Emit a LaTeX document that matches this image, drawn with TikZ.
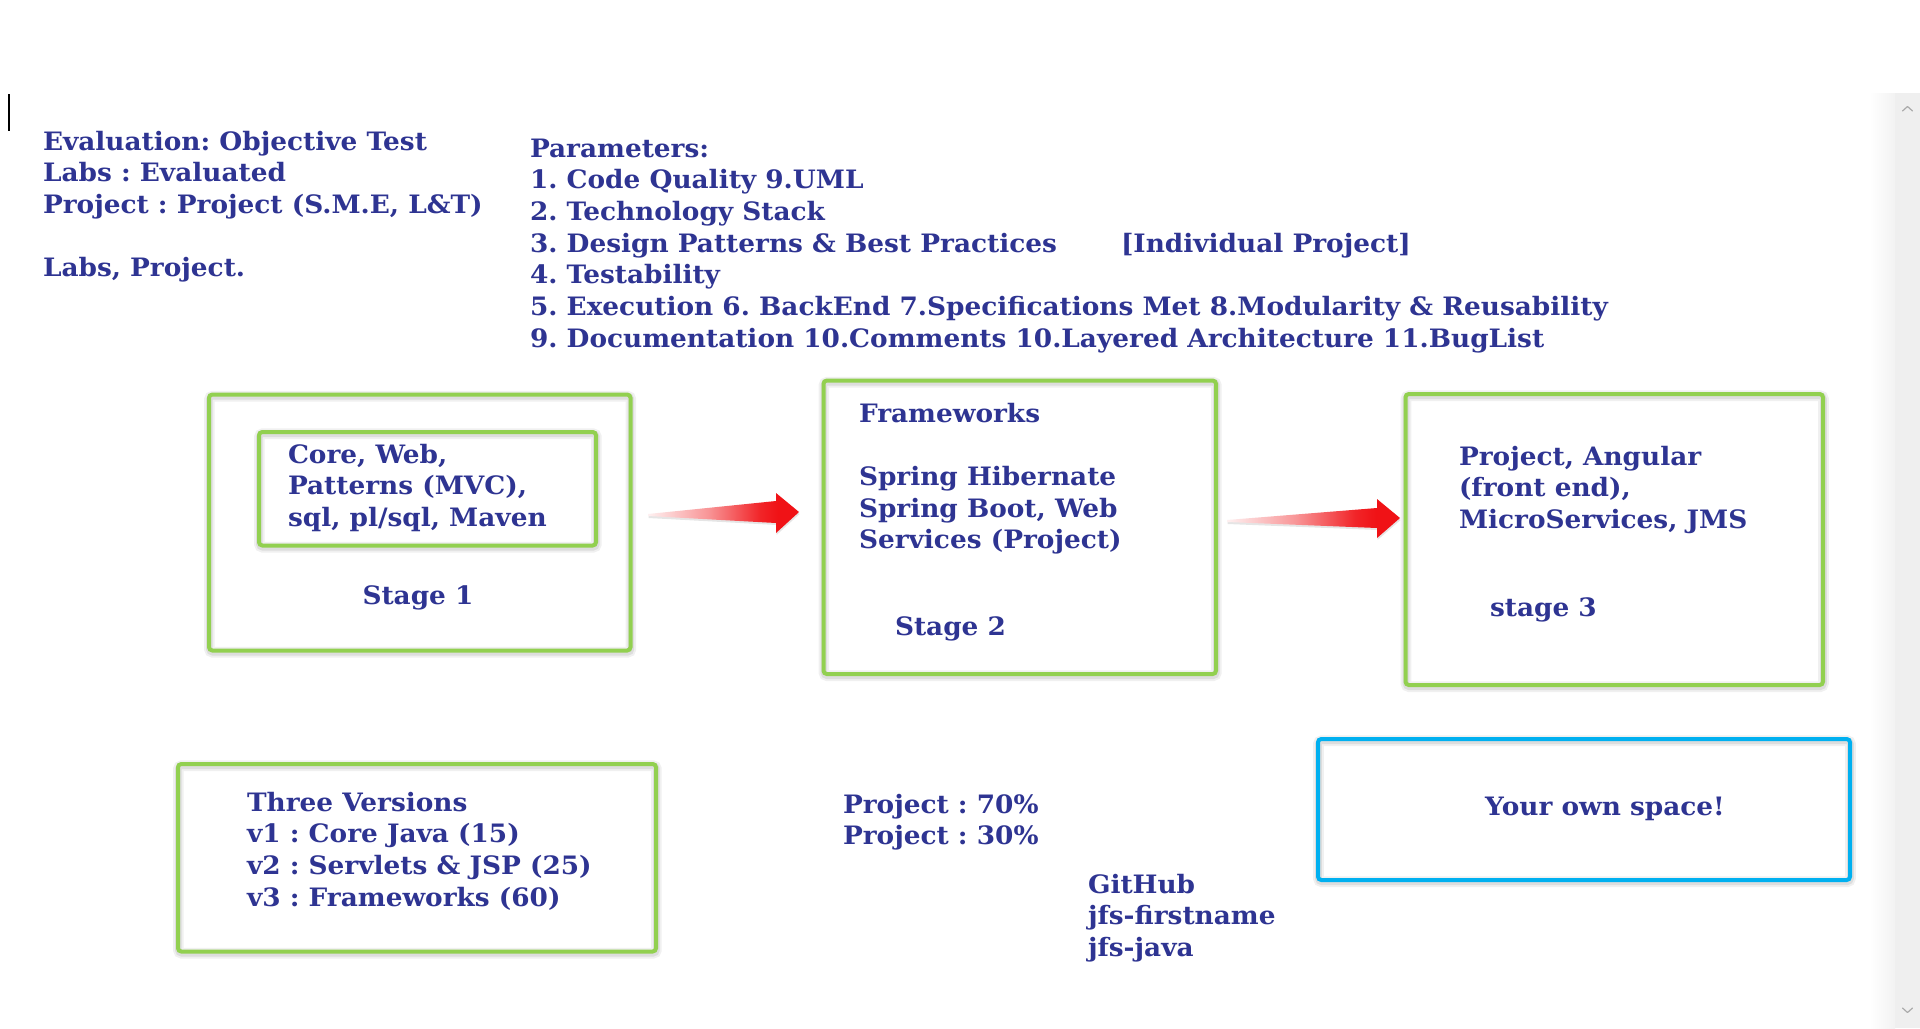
\documentclass[tikz,border=0pt]{standalone}
\usepackage{fontspec}
\setmainfont{DejaVu Serif}[FakeStretch=1.04]
\usetikzlibrary{fit,calc}
\definecolor{textblue}{RGB}{46,52,146}
\definecolor{lgreen}{RGB}{146,208,80}
\definecolor{lcyan}{RGB}{0,176,240}
\definecolor{scrollgray}{RGB}{239,239,239}
\definecolor{chevgray}{RGB}{170,170,170}
\definecolor{arrowred}{RGB}{240,18,22}
\newcommand\tfont{\fontsize{19}{23.8}\selectfont\bfseries\frenchspacing}
\newcommand\lns[1]{\begin{tabular}[t]{@{}l@{}}#1\end{tabular}}
\pgfdeclarehorizontalshading{fadered}{100bp}{color(0bp)=(arrowred!6); color(25bp)=(arrowred!6); color(45bp)=(arrowred!45); color(62bp)=(arrowred!92); color(68bp)=(arrowred); color(100bp)=(arrowred)}
\tikzset{
  txt/.style={anchor=base west, inner sep=0pt, outer sep=0pt, text=textblue, font=\tfont},
  ctxt/.style={txt, anchor=base},
  outlineshadow/.style={
    preaction={draw=black, draw opacity=0.06, line width=8pt, transform canvas={xshift=0.3pt,yshift=-1.3pt}},
    preaction={draw=black, draw opacity=0.08, line width=5pt, transform canvas={xshift=0.3pt,yshift=-1.3pt}}},
  greenbox/.style={outlineshadow, draw=lgreen, line width=3pt, rounded corners=2.5pt, inner sep=0pt, outer sep=0pt},
  bluebox/.style={greenbox, draw=lcyan},
  fadearrow/.style={shading=fadered,
    preaction={fill=black, fill opacity=0.10, transform canvas={xshift=0.4pt,yshift=-1.5pt}}}
}
\begin{document}
\begin{tikzpicture}[x=0.75pt,y=-0.75pt]
\useasboundingbox (0,0) rectangle (1920,1028);
\fill[white] (0,0) rectangle (1920,1028);
% page edge near scrollbar
\shade[left color=white, right color=black!5] (1870,93) rectangle (1895,1028);
\fill[scrollgray] (1895,93) rectangle (1920,1028);
\draw[chevgray, line width=0.9pt, line cap=round, line join=round] (1902.5,111) -- (1907.5,106.5) -- (1912.5,111);
\draw[chevgray, line width=0.9pt, line cap=round, line join=round] (1902.5,1008) -- (1907.5,1012.5) -- (1912.5,1008);
% text cursor
\draw[black, line width=0.8pt] (9,94) -- (9,131);

% top-left text
\node[txt] (eval) at (43,150) {\lns{Evaluation: Objective Test\\ Labs : Evaluated\\ Project : Project (S.M.E, L\&T)\\ \\ Labs, Project.}};

% parameters
\node[txt] (params) at (530,157) {\lns{Parameters:\\ 1. Code Quality 9.UML\\ 2. Technology Stack\\ 3. Design Patterns \& Best Practices\\ 4. Testability\\ 5. Execution 6. BackEnd 7.Specifications Met 8.Modularity \& Reusability\\ 9. Documentation 10.Comments 10.Layered Architecture 11.BugList}};
\node[txt] (indiv) at (1121,252.7) {[Individual Project]};

% stage 1
\node[greenbox, fit={(209,394.5) (630.5,650.5)}] (s1) {};
\node[greenbox, fit={(259,432) (596,545.5)}] (s1in) {};
\node[txt] (s1txt) at (288,463) {\lns{Core, Web,\\ Patterns (MVC),\\ sql, pl/sql, Maven}};
\node[ctxt] (st1) at (418,604) {Stage 1};

% stage 2
\node[greenbox, fit={(823.5,380.5) (1216,674)}] (s2) {};
\node[txt] (s2txt) at (859,422) {\lns{Frameworks\\ \\ Spring Hibernate\\ Spring Boot, Web\\ Services (Project)}};
\node[txt] (st2) at (895,635) {Stage 2};

% stage 3
\node[greenbox, fit={(1405.5,394) (1823,685)}] (s3) {};
\node[txt] (s3txt) at (1459,465) {\lns{Project, Angular\\ (front end),\\ MicroServices, JMS}};
\node[txt] (st3) at (1490,616) {stage 3};

% arrows
\coordinate (a1tail) at (648,515);
\coordinate (a1tip) at (799,512);
\coordinate (a2tail) at (1227,521);
\coordinate (a2tip) at (1400,518);
\shade[fadearrow] (a1tail) ++(0,-1) -- (776,501) -- (776,493) -- (a1tip) -- (776,533) -- (776,523) -- ($(a1tail)+(0,1)$) -- cycle;
\shade[fadearrow] (a2tail) ++(0,-1) -- (1377,508) -- (1377,499) -- (a2tip) -- (1377,538) -- (1377,528) -- ($(a2tail)+(0,1)$) -- cycle;

% versions
\node[greenbox, fit={(178,764) (656,951.5)}] (ver) {};
\node[txt] (vertxt) at (247,811) {\lns{Three Versions\\ v1 : Core Java (15)\\ v2 : Servlets \& JSP (25)\\ v3 : Frameworks (60)}};

% percentages and github
\node[txt] (pct) at (843,813) {\lns{Project : 70\%\\ Project : 30\%}};
\node[txt] (git) at (1088,893) {\lns{GitHub\\ jfs-firstname\\ jfs-java}};

% own space
\node[bluebox, fit={(1318,739) (1850,880)}] (own) {};
\node[ctxt] (owntxt) at (1605,815) {Your own space!};
\end{tikzpicture}
\end{document}
